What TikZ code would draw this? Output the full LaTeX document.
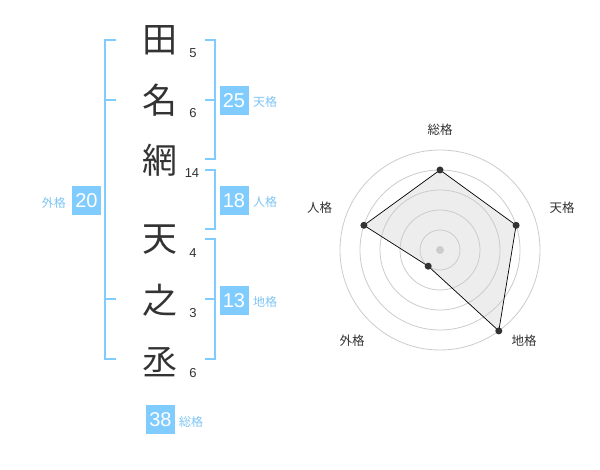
\documentclass[tikz,border=0pt]{standalone}
\usepackage{fontspec}
\setmainfont{Liberation Sans}
\newfontfamily\jp{Noto Sans CJK JP}
\definecolor{skyb}{HTML}{80CCFF}
\definecolor{skyt}{HTML}{7FC6F5}
\definecolor{ink}{HTML}{333333}
\definecolor{ring}{HTML}{CCCCCC}
\tikzset{
  kanji/.style={inner sep=0pt, text=ink, font=\jp\fontsize{35}{35}\selectfont},
  num/.style={inner sep=0pt, text=ink, font=\fontsize{13}{13}\selectfont},
  score/.style={fill=skyb, text=white, inner sep=0pt, minimum width=29pt, minimum height=29pt, font=\fontsize{20}{20}\selectfont},
  lab/.style={inner sep=0pt, text=skyt, font=\jp\fontsize{12}{12}\selectfont},
  brk/.style={draw=skyb, line width=2pt},
  rlab/.style={inner sep=0pt, text=ink, font=\jp\fontsize{12.5}{12.5}\selectfont},
  ringc/.style={draw=ring, line width=0.8pt},
  pt/.style={circle, fill=ink, inner sep=0pt, minimum size=7pt},
}
\begin{document}
\begin{tikzpicture}[x=1pt,y=-1pt]
\useasboundingbox[fill=white] (0,0) rectangle (600,470);
% characters
\node[kanji] (c1) at (160,40) {田};
\node[kanji] (c2) at (160,100) {名};
\node[kanji] (c3) at (160,160) {網};
\node[kanji] (c4) at (160,240) {天};
\node[kanji] (c5) at (160,300) {之};
\node[kanji] (c6) at (160,362) {丞};
% stroke numbers
\node[num] (n1) at (193,53) {5};
\node[num] (n2) at (193,113) {6};
\node[num] (n3) at (192,173) {14};
\node[num] (n4) at (193,253) {4};
\node[num] (n5) at (193,313) {3};
\node[num] (n6) at (193,373) {6};
% brackets
\draw[brk] (116,40) -- (105,40) -- (105,359) -- (116,359);
\draw[brk] (105,100) -- (116,100);
\draw[brk] (105,299) -- (116,299);
\draw[brk] (205,40) -- (215,40) -- (215,159) -- (205,159);
\draw[brk] (215,100) -- (205,100);
\draw[brk] (205,170) -- (215,170) -- (215,229) -- (205,229);
\draw[brk] (205,239) -- (215,239) -- (215,359) -- (205,359);
\draw[brk] (215,299) -- (205,299);
% score boxes
\node[score] (s20) at (86.5,200.5) {20};
\node[lab, anchor=east] (l20) at (66,203) {外格};
\node[score] (s25) at (234,100.5) {25};
\node[lab, anchor=west] (l25) at (253,102) {天格};
\node[score] (s18) at (234,200.5) {18};
\node[lab, anchor=west] (l18) at (253,202) {人格};
\node[score] (s13) at (234,300.5) {13};
\node[lab, anchor=west] (l13) at (253,302) {地格};
\node[score] (s38) at (160.5,419.5) {38};
\node[lab, anchor=west] (l38) at (179,422) {総格};
% radar
\coordinate (o) at (440,250);
\coordinate (pA) at (440,170);
\coordinate (pB) at (516.1,225.3);
\coordinate (pC) at (498.8,330.9);
\coordinate (pD) at (428.2,266.2);
\coordinate (pE) at (363.9,225.3);
\fill[black!7] (pA) -- (pB) -- (pC) -- (pD) -- (pE) -- cycle;
\foreach \r in {20,40,60,80,100} \draw[ringc] (o) circle[radius=\r];
\fill[ring] (o) circle[radius=4];
\draw[black, line width=0.7pt] (pA) -- (pB) -- (pC) -- (pD) -- (pE) -- cycle;
\foreach \p in {pA,pB,pC,pD,pE} \node[pt] at (\p) {};
\node[rlab] (rA) at (440,130) {総格};
\node[rlab] (rB) at (562,208) {天格};
\node[rlab] (rC) at (524,341) {地格};
\node[rlab] (rD) at (352,341) {外格};
\node[rlab] (rE) at (319.5,208) {人格};
\end{tikzpicture}
\end{document}
